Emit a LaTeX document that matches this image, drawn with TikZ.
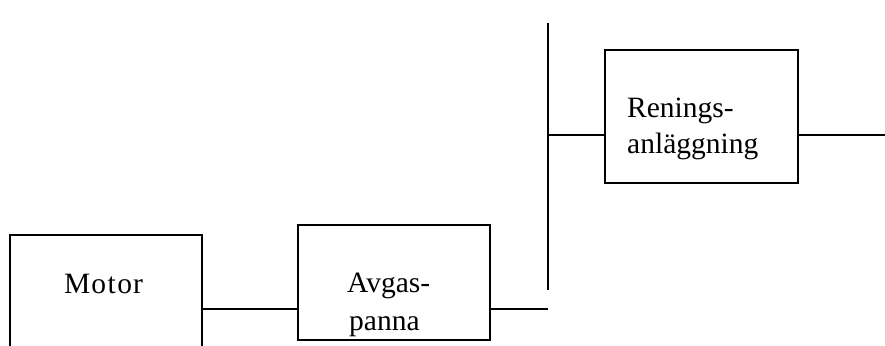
\documentclass[tikz,border=0pt]{standalone}
\usepackage{fontspec}
\setmainfont{Liberation Serif}
\begin{document}
\begin{tikzpicture}[x=1pt,y=-1pt,
  blk/.style={draw,line width=1.9pt,minimum width=#1,inner sep=0pt},
  lbl/.style={anchor=base west,inner sep=0pt,font=\fontsize{29.5}{36}\selectfont},
  wire/.style={line width=1.9pt}]
\useasboundingbox (0,0) rectangle (885,345);
\clip (0,0) rectangle (885,345);
% boxes
\node[blk=192pt,minimum height=125pt] (mot) at (106,297.5) {};
\node[blk=192pt,minimum height=115pt] (avg) at (394,282.5) {};
\node[blk=193pt,minimum height=133pt] (ren) at (701.5,116.5) {};
% texts
\node[lbl] (tmot) at (64,293) {M\kern1pt o\kern1.5pt t\kern1.5pt o\kern1pt r};
\node[lbl] (tavg1) at (347,292) {Avgas-};
\node[lbl] (tavg2) at (349,330) {panna};
\node[lbl] (tren1) at (627,117) {Renings-};
\node[lbl] (tren2) at (627,153) {anläggning};
% bus and free ends
\coordinate (bt) at (548,23);
\coordinate (bb) at (548,290);
\coordinate (aend) at (548,309);
\coordinate (bmid) at (548,135);
\coordinate (rend) at (885,135);
\coordinate (y1) at (0,309);
% connectors
\draw[wire] (bt) -- (bb);
\draw[wire] (mot.east |- y1) -- (avg.west |- y1);
\draw[wire] (avg.east |- y1) -- (aend);
\draw[wire] (bmid) -- (ren.west |- bmid);
\draw[wire] (ren.east |- rend) -- (rend);
\end{tikzpicture}
\end{document}
